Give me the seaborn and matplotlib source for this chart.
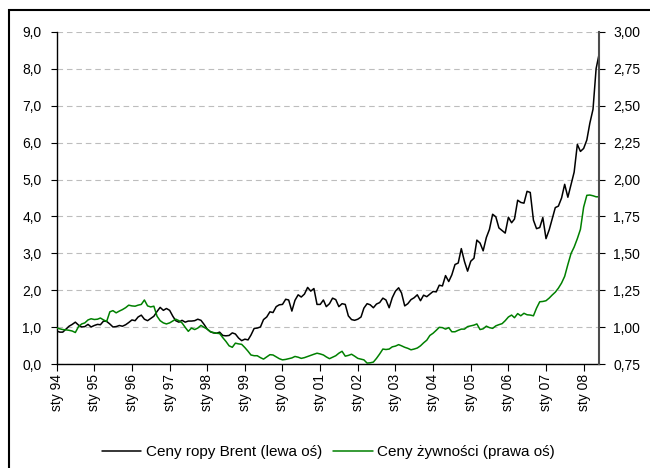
import numpy as np
import pandas as pd
import matplotlib
matplotlib.use("Agg")
import matplotlib.pyplot as plt
from matplotlib.ticker import FuncFormatter
from matplotlib.patches import Rectangle
import seaborn as sns

# Ceny ropy Brent (lewa os), miesiecznie sty 94 - cze 08
brent = [
    0.90, 0.87, 0.87, 0.95, 1.03, 1.08, 1.14, 1.06, 1.01, 1.02, 1.08, 1.01,  # 1994
    1.05, 1.08, 1.07, 1.17, 1.16, 1.09, 1.01, 1.02, 1.05, 1.03, 1.07, 1.13,  # 1995
    1.20, 1.18, 1.28, 1.33, 1.22, 1.18, 1.24, 1.30, 1.43, 1.54, 1.46, 1.51,  # 1996
    1.46, 1.30, 1.18, 1.14, 1.19, 1.14, 1.17, 1.17, 1.18, 1.22, 1.19, 1.08,  # 1997
    0.95, 0.88, 0.85, 0.84, 0.87, 0.78, 0.77, 0.78, 0.85, 0.82, 0.71, 0.64,  # 1998
    0.68, 0.66, 0.79, 0.97, 0.98, 1.01, 1.21, 1.28, 1.42, 1.40, 1.56, 1.61,  # 1999
    1.62, 1.76, 1.74, 1.44, 1.73, 1.88, 1.82, 1.90, 2.08, 1.98, 2.05, 1.62,  # 2000
    1.62, 1.74, 1.56, 1.64, 1.79, 1.75, 1.56, 1.64, 1.62, 1.31, 1.21, 1.19,  # 2001
    1.22, 1.28, 1.52, 1.64, 1.61, 1.53, 1.63, 1.67, 1.79, 1.74, 1.53, 1.80,  # 2002
    1.98, 2.07, 1.93, 1.58, 1.64, 1.75, 1.80, 1.88, 1.72, 1.87, 1.83, 1.90,  # 2003
    1.97, 1.96, 2.14, 2.12, 2.40, 2.24, 2.42, 2.70, 2.74, 3.13, 2.78, 2.52,  # 2004
    2.79, 2.87, 3.36, 3.28, 3.07, 3.43, 3.65, 4.06, 3.99, 3.69, 3.62, 3.55,  # 2005
    3.98, 3.83, 3.93, 4.44, 4.38, 4.36, 4.68, 4.65, 3.90, 3.67, 3.70, 3.97,  # 2006
    3.40, 3.64, 3.93, 4.24, 4.28, 4.50, 4.87, 4.52, 4.87, 5.20, 5.95, 5.76,  # 2007
    5.84, 6.07, 6.52, 6.90, 8.00, 8.42,                                      # 2008
]

# Ceny zywnosci (prawa os)
food = [
    0.995, 0.990, 0.985, 0.983, 0.980, 0.975, 0.965, 1.005, 1.023, 1.030, 1.050, 1.058,
    1.053, 1.055, 1.063, 1.050, 1.040, 1.105, 1.113, 1.098, 1.110, 1.120, 1.133, 1.150,
    1.145, 1.143, 1.150, 1.155, 1.185, 1.145, 1.138, 1.143, 1.075, 1.045, 1.030, 1.023,
    1.030, 1.043, 1.055, 1.045, 1.030, 1.000, 0.973, 0.995, 0.985, 0.995, 1.013, 1.000,
    0.988, 0.970, 0.965, 0.960, 0.958, 0.930, 0.905, 0.875, 0.865, 0.893, 0.888, 0.885,
    0.863, 0.838, 0.813, 0.808, 0.808, 0.795, 0.785, 0.800, 0.815, 0.813, 0.800, 0.788,
    0.780, 0.783, 0.788, 0.793, 0.803, 0.798, 0.790, 0.795, 0.803, 0.810, 0.818, 0.825,
    0.820, 0.813, 0.800, 0.788, 0.798, 0.808, 0.825, 0.838, 0.805, 0.810, 0.818, 0.805,
    0.790, 0.785, 0.780, 0.758, 0.760, 0.765, 0.790, 0.820, 0.853, 0.850, 0.853, 0.868,
    0.873, 0.883, 0.875, 0.865, 0.858, 0.848, 0.853, 0.860, 0.875, 0.895, 0.913, 0.945,
    0.960, 0.980, 1.000, 0.998, 0.988, 0.998, 0.970, 0.970, 0.980, 0.988, 0.988, 1.005,
    1.010, 1.015, 1.023, 0.985, 0.990, 1.008, 0.998, 0.993, 1.010, 1.018, 1.025, 1.045,
    1.070, 1.083, 1.065, 1.093, 1.078, 1.095, 1.085, 1.083, 1.078, 1.130, 1.173, 1.175,
    1.180, 1.198, 1.218, 1.238, 1.265, 1.300, 1.345, 1.425, 1.500, 1.543, 1.600, 1.663,
    1.813, 1.893, 1.895, 1.890, 1.883, 1.883,
]

tick_labels = ["sty 94", "sty 95", "sty 96", "sty 97", "sty 98", "sty 99", "sty 00",
               "sty 01", "sty 02", "sty 03", "sty 04", "sty 05", "sty 06", "sty 07",
               "sty 08"]
series_names = ["Ceny ropy Brent (lewa oś)", "Ceny żywności (prawa oś)"]

dates = pd.date_range("1994-01-01", periods=len(brent), freq="MS")
df = pd.DataFrame({"data": dates, "brent": brent, "food": food})

sns.set_theme(style="ticks", rc={"text.color": "black", "xtick.color": "black",
                                 "ytick.color": "black", "axes.edgecolor": "black"})
plt.rcParams["font.family"] = ["Liberation Sans", "DejaVu Sans"]

fig = plt.figure(figsize=(6.5, 4.68), dpi=100)
ax = fig.add_axes([0.0872, 0.2216, 0.8348, 0.7107])
ax2 = ax.twinx()

sns.lineplot(data=df, x="data", y="brent", ax=ax, color="black", lw=1.1, legend=False)
sns.lineplot(data=df, x="data", y="food", ax=ax2, color="#008000", lw=1.1, legend=False)

ax.set_xlim(dates[0], dates[-1])
ax.set_ylim(0, 9)
ax2.set_ylim(0.75, 3.0)
ax.set_yticks(np.arange(0, 9.5, 1))
ax2.set_yticks(np.arange(0.75, 3.1, 0.25))
ax.yaxis.set_major_formatter(FuncFormatter(lambda v, p: f"{v:.1f}".replace(".", ",")))
ax2.yaxis.set_major_formatter(FuncFormatter(lambda v, p: f"{v:.2f}".replace(".", ",")))
ax.set_xticks(dates[::12])
ax.set_xticklabels(tick_labels, rotation=90)
for a in (ax, ax2):
    a.set_xlabel("")
    a.set_ylabel("")

ax.grid(axis="y", color="#bdbdbd", linestyle=(0, (5, 3.5)), lw=0.8)
ax.grid(axis="x", visible=False)

ax.tick_params(axis="y", left=True, length=4, width=0.8, labelsize=10, pad=7)
ax.tick_params(axis="x", bottom=True, length=5, width=0.8, labelsize=10, pad=2)
ax2.tick_params(axis="y", right=True, left=False, length=4, width=0.8, labelsize=10, pad=6)

ax.spines["top"].set_visible(False)
ax.spines["right"].set_visible(False)
ax.spines["left"].set_linewidth(1.0)
ax.spines["bottom"].set_linewidth(1.0)
for s in ("top", "left", "bottom"):
    ax2.spines[s].set_visible(False)
ax2.spines["right"].set_color("#4d4d4d")
ax2.spines["right"].set_linewidth(1.5)

handles = [ax.get_lines()[0], ax2.get_lines()[0]]
fig.legend(handles, series_names, loc="center", bbox_to_anchor=(0.505, 0.034), ncol=2,
           frameon=False, fontsize=11, handlelength=2.6, handletextpad=0.3,
           columnspacing=0.7)

# ramka wokol wykresu
fig.add_artist(Rectangle((9 / 650, -0.1), 1.2, 1.0786, transform=fig.transFigure,
                         fill=False, ec="black", lw=1.5))

fig.savefig("out.png", dpi=100)
